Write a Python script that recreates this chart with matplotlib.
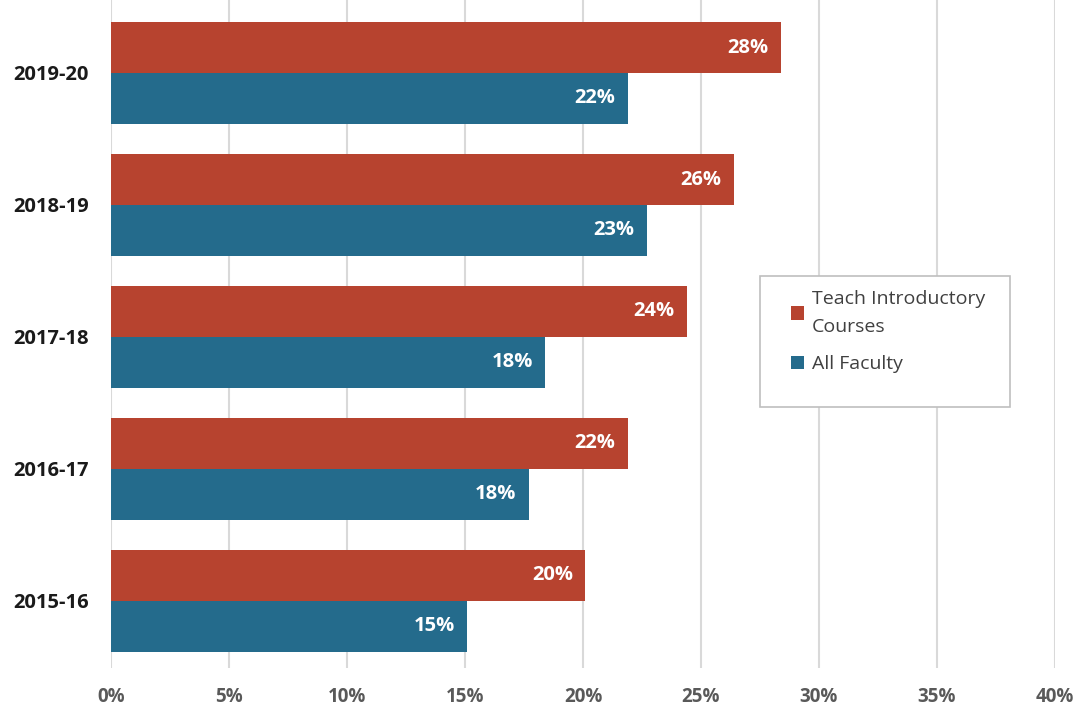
import matplotlib
matplotlib.use("Agg")
import matplotlib.pyplot as plt
from matplotlib.patches import Rectangle
import numpy as np

years = ["2015-16", "2016-17", "2017-18", "2018-19", "2019-20"]
intro = [20.1, 21.9, 24.4, 26.4, 28.4]
all_fac = [15.1, 17.7, 18.4, 22.7, 21.9]
series_names = ["Teach Introductory\nCourses", "All Faculty"]
xticks = [0, 5, 10, 15, 20, 25, 30, 35, 40]

RED = "#B7432F"
BLUE = "#246B8C"
FONT = ["Open Sans", "DejaVu Sans"]
plt.rcParams["font.family"] = FONT

fig = plt.figure(figsize=(10.89, 7.10), dpi=100)
ax = fig.add_axes([111/1089, 42/710, 944/1089, 668/710])

y = np.arange(len(years))
h = 0.386
b1 = ax.barh(y + h/2, intro, height=h, color=RED, label=series_names[0], zorder=3)
b2 = ax.barh(y - h/2, all_fac, height=h, color=BLUE, label=series_names[1], zorder=3)

for bars, vals in ((b1, intro), (b2, all_fac)):
    for rect, v in zip(bars, vals):
        ax.annotate(f"{round(v):d}%", xy=(v, rect.get_y() + rect.get_height()/2),
                    xytext=(-9, 0), textcoords="offset points",
                    ha="right", va="center", color="white",
                    fontsize=14.5, fontweight="bold", zorder=4)

ax.set_xlim(0, 40)
ax.set_ylim(-0.508, 4.553)
ax.set_xticks(xticks)
ax.set_xticklabels([f"{t}%" for t in xticks])
ax.set_yticks(y)
ax.set_yticklabels(years)
for lab in ax.get_xticklabels():
    lab.set_color("#595959"); lab.set_fontsize(13.5); lab.set_fontweight("bold")
for lab in ax.get_yticklabels():
    lab.set_color("#1a1a1a"); lab.set_fontsize(14.5); lab.set_fontweight("bold")
ax.tick_params(axis="both", length=0)
ax.tick_params(axis="x", pad=14)
ax.tick_params(axis="y", pad=16)
ax.xaxis.grid(True, color="#D9D9D9", linewidth=1.5, zorder=0)
ax.set_axisbelow(True)
for s in ax.spines.values():
    s.set_visible(False)

# legend frame
frame = Rectangle((0.6875, 0.391), 0.2645, 0.196, transform=ax.transAxes,
                  facecolor="white", edgecolor="#BFBFBF", linewidth=1.2, zorder=5)
ax.add_patch(frame)
leg = ax.legend(loc="upper left", bbox_to_anchor=(0.72, 0.566), frameon=False,
                handlelength=0.7, handleheight=0.7, handletextpad=0.4,
                labelspacing=1.0, borderpad=0, borderaxespad=0,
                prop={"size": 14, "family": FONT})
leg.set_zorder(6)
for t in leg.get_texts():
    t.set_color("#404040")
    t.set_linespacing(1.7)

fig.savefig("out.png", dpi=100)
